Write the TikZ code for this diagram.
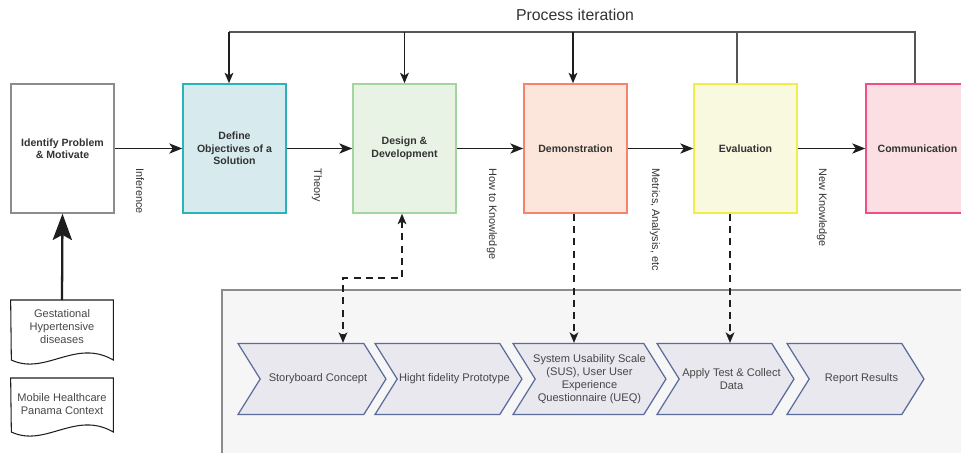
\documentclass[tikz,border=0pt]{standalone}
\usepackage{fontspec}
\setmainfont{Liberation Sans}
\usetikzlibrary{arrows.meta,shapes.symbols}
\definecolor{dsrtext}{HTML}{333333}
\definecolor{dsrink}{HTML}{1E1E1E}
\definecolor{dsrloop}{HTML}{555555}
\definecolor{dsrgray}{HTML}{8C8C8C}
\definecolor{dsrteal}{HTML}{2AB3B8}
\definecolor{dsrtealbg}{HTML}{D7EBEE}
\definecolor{dsrgreen}{HTML}{A3D69E}
\definecolor{dsrgreenbg}{HTML}{E8F3E6}
\definecolor{dsrorange}{HTML}{F4846A}
\definecolor{dsrorangebg}{HTML}{FCE5DA}
\definecolor{dsryellow}{HTML}{EFEF45}
\definecolor{dsryellowbg}{HTML}{F9F9E0}
\definecolor{dsrpink}{HTML}{EF4F86}
\definecolor{dsrpinkbg}{HTML}{FBDFE3}
\definecolor{dsrpanel}{HTML}{F6F6F6}
\definecolor{dsrchev}{HTML}{E8E8EE}
\definecolor{dsrchevbd}{HTML}{5B6C9A}
\newcommand{\chevpad}{\hspace*{6.8pt}}
\tikzset{
  dsrbase/.style={line cap=butt, line join=miter},
  stagebox/.style={draw, line width=.85pt, minimum width=2.06cm, minimum height=2.58cm,
    align=center, inner sep=1pt, text=dsrtext, font=\fontsize{6}{7.1}\selectfont\bfseries},
  flowline/.style={draw=dsrink,line width=.8pt,-{Stealth[length=7.4pt,width=5.8pt,inset=2pt]}},
  loopline/.style={draw=dsrloop,line width=.8pt},
  loopdown/.style={draw=dsrink,line width=.8pt,-{Stealth[length=6pt,width=5pt,inset=1.6pt]}},
  linkline/.style={draw=dsrink,line width=.8pt,dash pattern=on 4pt off 3pt},
  inputline/.style={draw=dsrink,line width=1.3pt,-{Stealth[length=15pt,width=11pt,inset=3pt]}},
  flowlabel/.style={rotate=-90,anchor=west,inner sep=0pt,text=dsrtext,font=\fontsize{6.2}{7.4}\selectfont},
  chev/.style={signal, signal from=west, signal to=east, signal pointer angle=116,
    draw=dsrchevbd, fill=dsrchev, line width=.7pt, minimum height=1.42cm,
    inner xsep=-9pt, inner ysep=1pt,
    align=center, text=dsrtext!90, font=\fontsize{6.3}{7.4}\selectfont},
  docnote/.style={anchor=north, minimum width=2.04cm, inner sep=1pt, align=center,
    text=dsrtext!90, font=\fontsize{6.3}{7.4}\selectfont},
  docline/.style={draw=dsrink,line width=.6pt},
  panelbox/.style={draw=dsrgray,line width=.7pt,fill=dsrpanel},
  titletext/.style={text=dsrtext,font=\fontsize{9}{11}\selectfont}
}

\begin{document}
\begin{tikzpicture}[dsrbase, x=0.02cm, y=-0.02cm]
\useasboundingbox (0,0) rectangle (961,453);
% evaluation panel
\draw[panelbox] (222,290) rectangle (990,480);
% DSR stages
\node[stagebox, draw=dsrgray, fill=white] (ident) at (62.5,148.5) {Identify Problem\\\& Motivate};
\node[stagebox, draw=dsrteal, fill=dsrtealbg] (define) at (234.5,148.5) {Define\\Objectives of a\\Solution};
\node[stagebox, draw=dsrgreen, fill=dsrgreenbg] (design) at (404.5,148.5) {Design \&\\Development};
\node[stagebox, draw=dsrorange, fill=dsrorangebg] (demo) at (575.5,148.5) {Demonstration};
\node[stagebox, draw=dsryellow, fill=dsryellowbg] (eval) at (745.5,148.5) {Evaluation};
\node[stagebox, draw=dsrpink, fill=dsrpinkbg] (comm) at (917.5,148.5) {Communication};
\draw[flowline] (ident) -- (define);
\draw[flowline] (define) -- (design);
\draw[flowline] (design) -- (demo);
\draw[flowline] (demo) -- (eval);
\draw[flowline] (eval) -- (comm);
\node[flowlabel] (lblinf) at (140,168) {Inference};
\node[flowlabel] (lblthe) at (317,168) {Theory};
\node[flowlabel] (lblhow) at (492,168) {How to Knowledge};
\node[flowlabel] (lblmet) at (655,168) {Metrics, Analysis, etc};
\node[flowlabel] (lblnew) at (822,168) {New Knowledge};
% process iteration loop
\node[titletext] (iter) at (575,15) {Process iteration};
\coordinate (loopW) at (229,32);
\coordinate (loopE) at (915,32);
\draw[loopline] (comm.north -| loopE) -- (loopE) -- (loopW);
\draw[loopline] ([xshift=-.17cm]eval.north) -- ([xshift=-.17cm]eval.north |- loopW);
\draw[loopdown] (loopW) -- (loopW |- define.north);
\draw[loopdown] (design.north |- loopW) -- (design.north);
\draw[loopdown] ([xshift=-.05cm]demo.north |- loopW) -- ([xshift=-.05cm]demo.north);
% inputs
\node[docnote] (gest) at (62,307) {Gestational\\Hypertensive\\diseases};
\node[docnote] (mobile) at (62,391) {Mobile Healthcare\\Panama Context};
\draw[docline] ([yshift=.14cm]gest.north west) -- ([yshift=.14cm]gest.north east) -- ++(0,60)
  .. controls +(-38,-22) and +(34,16) .. ++(-102,0) -- cycle;
\draw[docline] ([yshift=.26cm]mobile.north west) -- ([yshift=.26cm]mobile.north east) -- ++(0,54)
  .. controls +(-38,-22) and +(34,16) .. ++(-102,0) -- cycle;
\draw[inputline] ([yshift=.14cm]gest.north) -- (ident.south);
% evaluation steps
\node[chev, minimum width=2.96cm] (story) at (312,379) {\chevpad Storyboard Concept};
\node[chev, minimum width=2.94cm] (proto) at (448.5,379) {\chevpad Hight fidelity Prototype};
\node[chev, minimum width=3.06cm] (sus) at (589.5,379) {System Usability Scale\\(SUS), User User\\Experience\\Questionnaire (UEQ)};
\node[chev, minimum width=2.74cm] (apply) at (725.5,379) {\chevpad Apply Test \& Collect\\\chevpad Data};
\node[chev, minimum width=2.74cm] (report) at (855.5,379) {\chevpad Report Results};
% links to the steps
\coordinate (linkbend) at (343,278);
\draw[linkline, {Stealth[length=6pt,width=5pt,inset=1.6pt]}-{Stealth[length=6pt,width=5pt,inset=1.6pt]}]
  ([xshift=-.05cm]design.south) |- (linkbend) -- (linkbend |- story.north);
\draw[linkline, -{Stealth[length=6pt,width=5pt,inset=1.6pt]}] ([xshift=-.03cm]demo.south) -- ([xshift=-.03cm]demo.south |- sus.north);
\draw[linkline, -{Stealth[length=6pt,width=5pt,inset=1.6pt]}] ([xshift=-.31cm]eval.south) -- ([xshift=-.31cm]eval.south |- apply.north);
\end{tikzpicture}
\end{document}
